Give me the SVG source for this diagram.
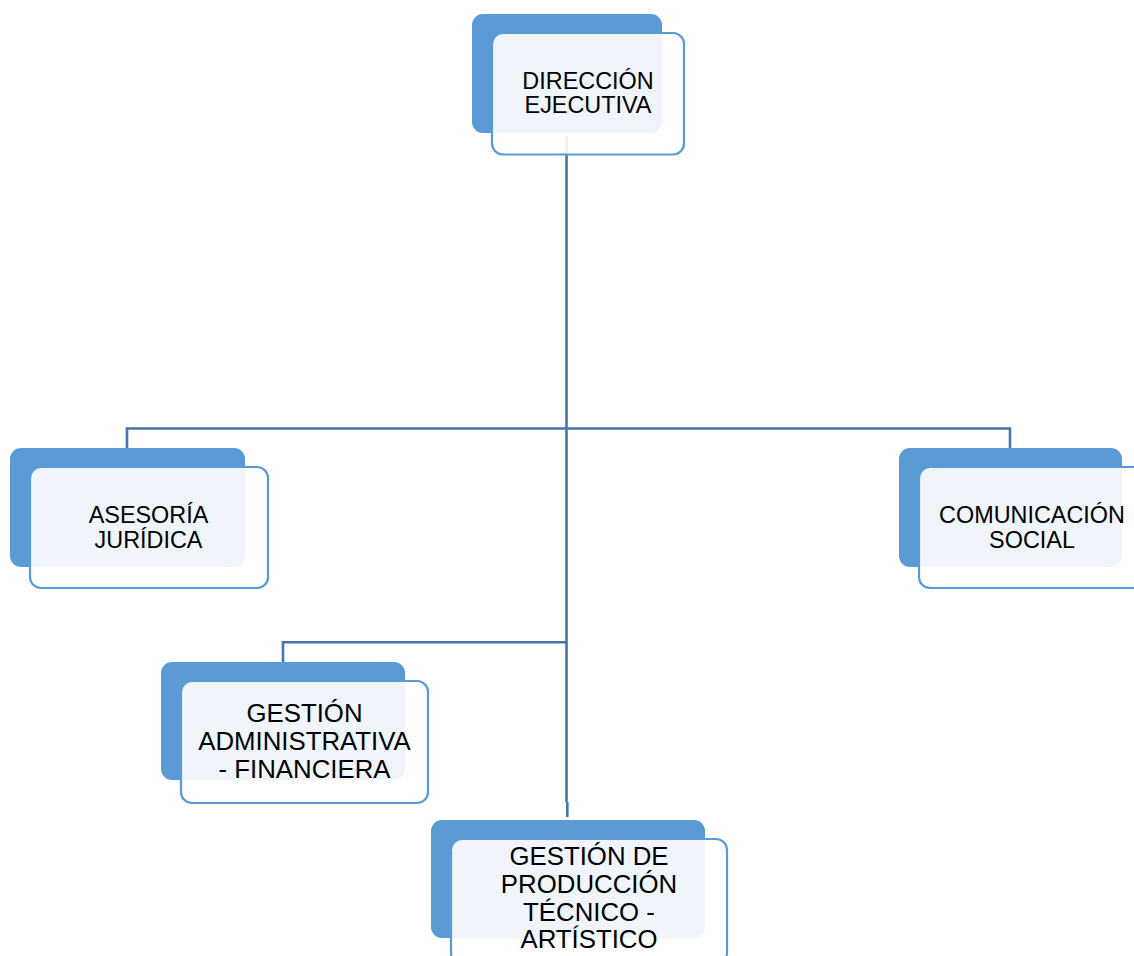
<svg xmlns="http://www.w3.org/2000/svg" width="1134" height="956" viewBox="0 0 1134 956">
<style>
.back{fill:#5B9BD5;}
.front{fill:#FFFFFF;fill-opacity:0.9;stroke:#5B9BD5;stroke-width:2.2;}
.conn{fill:none;stroke:#4675AA;stroke-width:2.6;}
text{font-family:"Liberation Sans",Arial,sans-serif;fill:#000;text-anchor:middle;}
.s1{font-size:23.4px;}
.s2{font-size:25.8px;}
</style>
<rect width="1134" height="956" fill="#FFFFFF"/>
<g id="connectors">
<path class="conn" d="M566.5,136 V802"/>
<path class="conn" d="M567.3,802 V817"/>
<path class="conn" d="M127,448 V428.5 H1010 V448"/>
<path class="conn" d="M283,662 V642.3 H566.5"/>
</g>
<g id="direccion">
<rect class="back" x="472" y="14" width="190" height="119" rx="11"/>
<rect class="front" x="492" y="33" width="192" height="121.5" rx="11"/>
<text class="s1"><tspan x="588" y="89">DIRECCIÓN</tspan><tspan x="588" y="113">EJECUTIVA</tspan></text>
</g>
<g id="asesoria">
<rect class="back" x="10" y="448" width="235" height="119" rx="11"/>
<rect class="front" x="30" y="467" width="238" height="121" rx="11"/>
<text class="s1"><tspan x="148.5" y="522.7">ASESORÍA</tspan><tspan x="148.5" y="548.3">JURÍDICA</tspan></text>
</g>
<g id="comunicacion">
<rect class="back" x="899" y="448" width="223" height="119" rx="11"/>
<rect class="front" x="919" y="467" width="226" height="121" rx="11"/>
<text class="s1"><tspan x="1032" y="522.7">COMUNICACIÓN</tspan><tspan x="1032" y="548.3">SOCIAL</tspan></text>
</g>
<g id="gestion-admin">
<rect class="back" x="161" y="662" width="244" height="118" rx="11"/>
<rect class="front" x="181" y="681" width="247" height="122" rx="11"/>
<text class="s2"><tspan x="304.5" y="722.3">GESTIÓN</tspan><tspan x="304.5" y="750">ADMINISTRATIVA</tspan><tspan x="304.5" y="777.7">- FINANCIERA</tspan></text>
</g>
<g id="gestion-produccion">
<rect class="back" x="431" y="820" width="274" height="118" rx="11"/>
<rect class="front" x="451" y="839" width="276" height="125" rx="11"/>
<text class="s2"><tspan x="589" y="865">GESTIÓN DE</tspan><tspan x="589" y="893">PRODUCCIÓN</tspan><tspan x="589" y="921">TÉCNICO -</tspan><tspan x="589" y="948">ARTÍSTICO</tspan></text>
</g>
</svg>
